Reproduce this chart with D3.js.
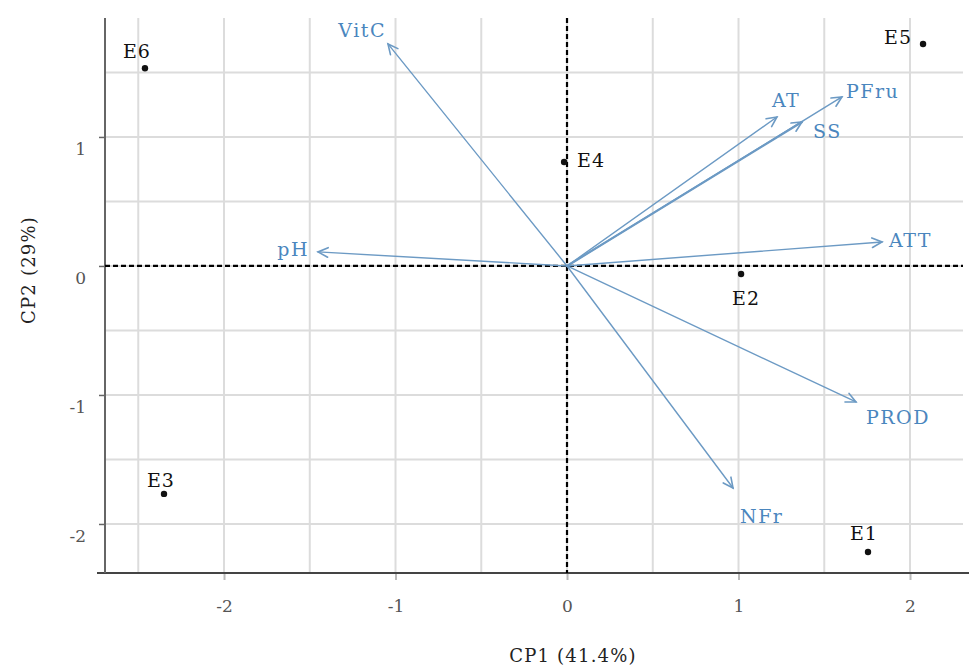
<!DOCTYPE html>
<html>
<head>
<meta charset="utf-8">
<script src="https://cdn.jsdelivr.net/npm/d3@7/dist/d3.min.js"></script>
<style>
  html, body { margin: 0; padding: 0; background: #fff; }
  svg { display: block; }
  text { font-family: "DejaVu Serif", serif; }
</style>
</head>
<body>
<svg id="chart" width="969" height="666"></svg>
<script>
// ---- Data ----
const sampleNames = ["E1", "E2", "E3", "E4", "E5", "E6"];
const sampleCP1   = [1.755, 1.015, -2.350, -0.017, 2.076, -2.461];
const sampleCP2   = [-2.217, -0.062, -1.767, 0.806, 1.721, 1.533];

const varNames = ["VitC", "pH", "AT", "SS", "PFru", "ATT", "PROD", "NFr"];
const varCP1   = [-1.044, -1.452, 1.224, 1.370, 1.603, 1.837, 1.685, 0.968];
const varCP2   = [1.721, 0.109, 1.155, 1.116, 1.310, 0.186, -1.054, -1.721];

const xTicks = [-2, -1, 0, 1, 2];
const yTicks = [-2, -1, 0, 1];
const xTickLabels = ["-2", "-1", "0", "1", "2"];
const yTickLabels = ["-2", "-1", "0", "1"];
const xGrid = [-2.5, -2, -1.5, -1, -0.5, 0, 0.5, 1, 1.5, 2];
const yGrid = [-2, -1.5, -1, -0.5, 0, 0.5, 1, 1.5];

const xTitle = "CP1 (41.4%)";
const yTitle = "CP2 (29%)";

// label placement (pixel offsets relative to mark)
const sampleLabelPos = {
  E1: {dx: -4, dy: -12, anchor: "middle"},
  E2: {dx: 5, dy: 31, anchor: "middle"},
  E3: {dx: -3, dy: -7, anchor: "middle"},
  E4: {dx: 13, dy: 5, anchor: "start"},
  E5: {dx: -11, dy: 0, anchor: "end"},
  E6: {dx: -8, dy: -10, anchor: "middle"}
};
const varLabelPos = {
  VitC: {dx: -2, dy: -7, anchor: "end"},
  pH:   {dx: -9, dy: 4, anchor: "end"},
  AT:   {dx: -5, dy: -10, anchor: "start"},
  SS:   {dx: 11, dy: 16, anchor: "start"},
  PFru: {dx: 4, dy: 1, anchor: "start"},
  ATT:  {dx: 7, dy: 5, anchor: "start"},
  PROD: {dx: 10, dy: 22, anchor: "start"},
  NFr:  {dx: 7, dy: 35, anchor: "start"}
};

(function () {
// ---- Layout ----
const W = 969, H = 666;
const pLeft = 105, pRight = 963, pTop = 18, pBottom = 573;
const svg = d3.select("#chart");

const x = d3.scaleLinear().domain([-2.694, 2.309]).range([pLeft, pRight]);
const y = d3.scaleLinear().domain([-2.380, 1.922]).range([pBottom, pTop]);

// grid
const grid = svg.append("g").attr("stroke", "#dcdcdc").attr("stroke-width", 2);
grid.selectAll("line.v").data(xGrid).join("line").attr("class", "v")
  .attr("x1", d => x(d)).attr("x2", d => x(d))
  .attr("y1", pTop).attr("y2", pBottom);
grid.selectAll("line.h").data(yGrid).join("line").attr("class", "h")
  .attr("x1", pLeft).attr("x2", pRight)
  .attr("y1", d => y(d)).attr("y2", d => y(d));

// axes
const xAxis = d3.axisBottom(x).tickValues(xTicks).tickSize(7).tickPadding(14)
  .tickFormat((d, i) => xTickLabels[i]);
const gx = svg.append("g").attr("transform", `translate(0,${pBottom})`).call(xAxis);
gx.select(".domain").remove();
gx.append("line").attr("x1", pLeft - 8).attr("x2", W).attr("y1", 0).attr("y2", 0)
  .attr("stroke", "#444").attr("stroke-width", 2);
gx.selectAll(".tick line").attr("stroke", "#bbb").attr("stroke-width", 2);
gx.selectAll(".tick text")
  .attr("font-family", "DejaVu Serif, serif").attr("font-size", 17)
  .attr("fill", "#555").attr("dy", 0).attr("y", 39);

const yAxis = d3.axisLeft(y).tickValues(yTicks).tickSize(6).tickPadding(13)
  .tickFormat((d, i) => yTickLabels[i]);
const gy = svg.append("g").attr("transform", `translate(${pLeft},0)`).call(yAxis);
gy.select(".domain").remove();
gy.append("line").attr("x1", 0).attr("x2", 0).attr("y1", pTop).attr("y2", pBottom)
  .attr("stroke", "#666").attr("stroke-width", 2);
gy.selectAll(".tick line").attr("stroke", "#666").attr("stroke-width", 1.5);
gy.selectAll(".tick text")
  .attr("font-family", "DejaVu Serif, serif").attr("font-size", 17)
  .attr("fill", "#555").attr("dy", 0).attr("y", 18);

// dashed zero lines
svg.append("line")
  .attr("x1", pLeft).attr("x2", pRight).attr("y1", y(0)).attr("y2", y(0))
  .attr("stroke", "#000").attr("stroke-width", 2.2).attr("stroke-dasharray", "5,3");
svg.append("line")
  .attr("x1", x(0)).attr("x2", x(0)).attr("y1", pTop).attr("y2", pBottom)
  .attr("stroke", "#000").attr("stroke-width", 2.2).attr("stroke-dasharray", "5,3");

// variable arrows
const vars = varNames.map((n, i) => ({name: n, cp1: varCP1[i], cp2: varCP2[i]}));
const arrowColor = "#6c9ac4";
const ga = svg.append("g").attr("stroke", arrowColor)
  .attr("fill", "none").attr("stroke-linecap", "round");
vars.forEach(v => {
  const x0 = x(0), y0 = y(0), x1 = x(v.cp1), y1 = y(v.cp2);
  ga.append("line").attr("x1", x0).attr("y1", y0).attr("x2", x1).attr("y2", y1)
    .attr("stroke-width", v.name === "SS" ? 2.2 : 1.4);
  const ang = Math.atan2(y1 - y0, x1 - x0);
  const L = 11, a = 0.45;
  const p1 = [x1 - L * Math.cos(ang - a), y1 - L * Math.sin(ang - a)];
  const p2 = [x1 - L * Math.cos(ang + a), y1 - L * Math.sin(ang + a)];
  ga.append("path").attr("d", `M${p1[0]},${p1[1]}L${x1},${y1}L${p2[0]},${p2[1]}`)
    .attr("stroke-width", 1.6);
});
svg.append("g").selectAll("text").data(vars).join("text")
  .attr("x", d => x(d.cp1) + varLabelPos[d.name].dx)
  .attr("y", d => y(d.cp2) + varLabelPos[d.name].dy)
  .attr("text-anchor", d => varLabelPos[d.name].anchor)
  .attr("font-size", 19).attr("letter-spacing", 1.5)
  .attr("fill", "#4a86be")
  .text(d => d.name);

// sample points
const samples = sampleNames.map((n, i) => ({name: n, cp1: sampleCP1[i], cp2: sampleCP2[i]}));
svg.append("g").selectAll("circle").data(samples).join("circle")
  .attr("cx", d => x(d.cp1)).attr("cy", d => y(d.cp2)).attr("r", 3.2)
  .attr("fill", "#111");
svg.append("g").selectAll("text").data(samples).join("text")
  .attr("x", d => x(d.cp1) + sampleLabelPos[d.name].dx)
  .attr("y", d => y(d.cp2) + sampleLabelPos[d.name].dy)
  .attr("text-anchor", d => sampleLabelPos[d.name].anchor)
  .attr("font-size", 19).attr("letter-spacing", 1)
  .attr("fill", "#111")
  .text(d => d.name);

// axis titles
svg.append("text").attr("x", 573).attr("y", 662).attr("text-anchor", "middle")
  .attr("font-size", 18).attr("letter-spacing", 1.2).attr("fill", "#222")
  .text(xTitle);
svg.append("text").attr("transform", `translate(35,${y(0) + 4}) rotate(-90)`)
  .attr("text-anchor", "middle")
  .attr("font-size", 18).attr("letter-spacing", 1.2).attr("fill", "#222")
  .text(yTitle);
})();
</script>
</body>
</html>
